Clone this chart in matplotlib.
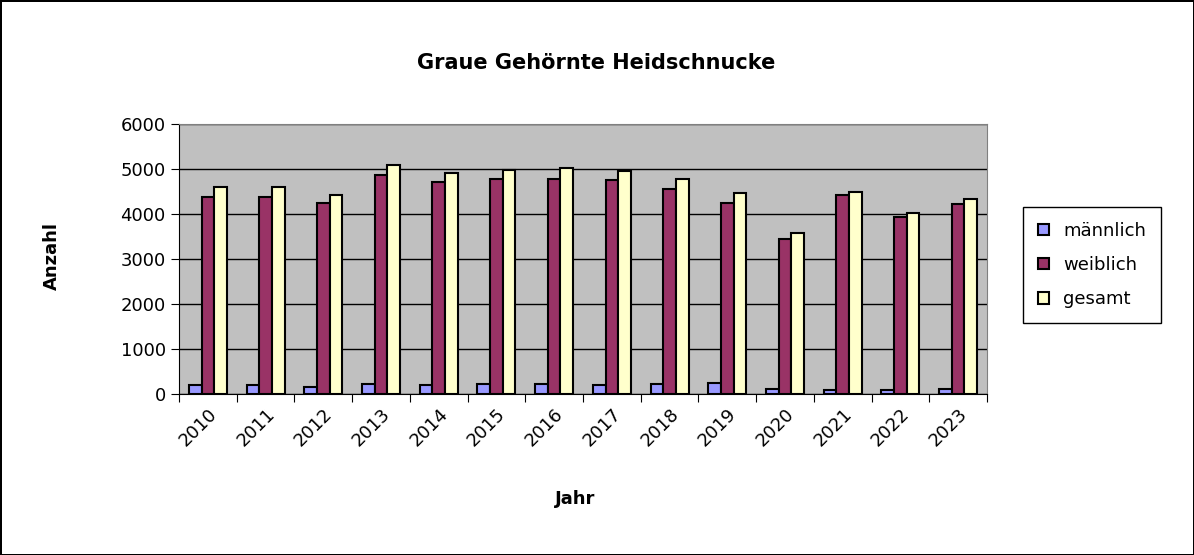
import matplotlib.pyplot as plt
import numpy as np

# values
years = ['2010', '2011', '2012', '2013', '2014', '2015', '2016',
         '2017', '2018', '2019', '2020', '2021', '2022', '2023']
maennlich = [193, 193, 148, 215, 193, 215, 215, 193, 215, 237, 104, 89, 89, 104]
weiblich = [4385, 4385, 4237, 4859, 4704, 4770, 4785, 4748, 4548, 4237, 3437, 4415, 3926, 4215]
gesamt = [4593, 4593, 4415, 5081, 4904, 4985, 5015, 4948, 4770, 4467, 3570, 4481, 4022, 4326]

W, H = 1194, 555
fig = plt.figure(figsize=(W / 100, H / 100), dpi=100)
fig.patch.set_edgecolor('black')
fig.patch.set_linewidth(2)
ax = fig.add_axes([179 / W, 1 - 394 / H, (987 - 179) / W, (394 - 124) / H])
ax.set_facecolor('#c0c0c0')

x = np.arange(len(years))
w = 0.22
kw = dict(edgecolor='black', linewidth=1.5, zorder=3)
ax.bar(x - w, maennlich, w, color='#9999ff', label='männlich', **kw)
ax.bar(x, weiblich, w, color='#993366', label='weiblich', **kw)
ax.bar(x + w, gesamt, w, color='#ffffcc', label='gesamt', **kw)

ax.set_xlim(-0.5, len(years) - 0.5)
ax.set_ylim(0, 6000)
ax.set_yticks(range(0, 6001, 1000))
ax.yaxis.grid(True, color='black', linewidth=1, zorder=0)
ax.set_xticks(np.arange(len(years) + 1) - 0.5, minor=False)
ax.set_xticklabels([])
ax.set_xticks(x, minor=True)
ax.set_xticklabels(years, minor=True, rotation=45, fontsize=13, ha='right', rotation_mode='anchor')
ax.tick_params(axis='x', which='minor', length=0, pad=8)
ax.tick_params(axis='x', which='major', length=6, direction='out')
ax.tick_params(axis='y', labelsize=13, length=6)
for s in ['top', 'right']:
    ax.spines[s].set_color('#808080')
for s in ['left', 'bottom']:
    ax.spines[s].set_color('black')

fig.text(596 / W, 1 - 63 / H, 'Graue Gehörnte Heidschnucke', ha='center', va='center',
         fontsize=15, fontweight='bold')
fig.text(575 / W, 1 - 499 / H, 'Jahr', ha='center', va='center', fontsize=13, fontweight='bold')
fig.text(52 / W, 1 - 256 / H, 'Anzahl', ha='center', va='center', rotation=90,
         fontsize=13, fontweight='bold')

leg = fig.legend(loc='center', bbox_to_anchor=(1092 / W, 1 - 265 / H), fontsize=13,
                 fancybox=False, edgecolor='black', framealpha=1, handlelength=0.6,
                 handleheight=0.6, labelspacing=0.9, borderpad=0.8)
leg.get_frame().set_linewidth(1)

fig.savefig('out.png', dpi=100, edgecolor=fig.get_edgecolor())
